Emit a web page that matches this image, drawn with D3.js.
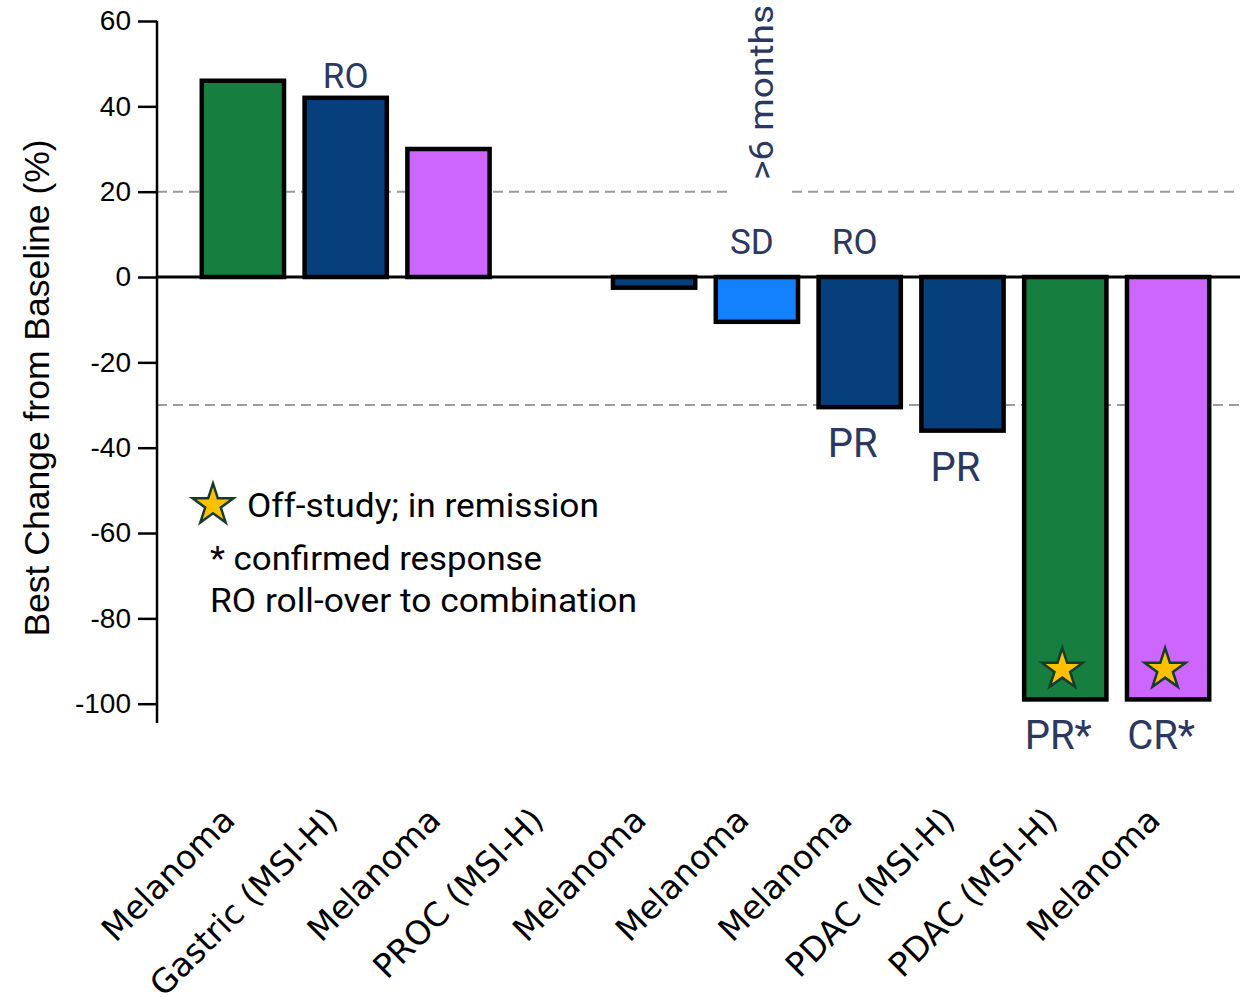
<!DOCTYPE html>
<html>
<head>
<meta charset="utf-8">
<script src="https://cdn.jsdelivr.net/npm/d3@7"></script>
<style>
  html, body { margin: 0; padding: 0; background: #fff; }
  svg { display: block; }
</style>
</head>
<body>
<svg id="chart" width="1240" height="997"></svg>
<script>
// ---- data ----
const categories = ["Melanoma", "Gastric (MSI-H)", "Melanoma", "PROC (MSI-H)", "Melanoma",
                    "Melanoma", "Melanoma", "PDAC (MSI-H)", "PDAC (MSI-H)", "Melanoma"];
const values = [46, 42, 30, 0, -2.5, -10.5, -30.5, -36, -99, -99];
const cohorts = ["A", "B", "C", "B", "B", "D", "B", "B", "A", "C"];
const cohortNames = ["A", "B", "C", "D"];
const yTicks = [60, 40, 20, 0, -20, -40, -60, -80, -100];
const thresholds = [20, -30];
const topNotes = [{ i: 1, text: "RO" }, { i: 5, text: "SD" }, { i: 6, text: "RO" }];
const bottomNotes = [{ i: 6, text: "PR" }, { i: 7, text: "PR" }, { i: 8, text: "PR*" }, { i: 9, text: "CR*" }];
const remission = [8, 9];
const remissionStarValue = -91.5;
const durationNote = { i: 5, text: ">6 months" };
const legendLines = ["Off-study; in remission", "* confirmed response", "RO roll-over to combination"];
const yTitle = "Best Change from Baseline (%)";

// ---- layout ----
const svg = d3.select("#chart");
const axisX = 157;
const rightEdge = 1240;
const y = d3.scaleLinear().domain([-100, 60]).range([703.7, 21]);
const x = d3.scaleBand().domain(d3.range(categories.length)).range([191.5, 1219.5])
  .paddingInner(0.2).paddingOuter(0.1);
const color = d3.scaleOrdinal().domain(cohortNames).range(["#167f3f", "#073e7c", "#cc66ff", "#1380fe"]);
const noteColor = "#2b3862";
const noteFont = "Roboto, 'Noto Sans', sans-serif";
const cx = i => x(i) + x.bandwidth() / 2;

// threshold dashed lines
const gapL = 727, gapR = 792;
thresholds.forEach(t => {
  const segs = t === 20 ? [[axisX, gapL], [gapR, rightEdge]] : [[axisX, rightEdge]];
  segs.forEach(([a, b]) => {
    svg.append("line").attr("x1", a).attr("x2", b).attr("y1", y(t)).attr("y2", y(t))
      .attr("stroke", "#9a9a9a").attr("stroke-width", 2).attr("stroke-dasharray", "10,6");
  });
});

// bars
svg.append("g").selectAll("rect").data(values).join("rect")
  .attr("x", (d, i) => x(i))
  .attr("width", x.bandwidth())
  .attr("y", d => y(Math.max(0, d)))
  .attr("height", d => Math.abs(y(d) - y(0)))
  .attr("fill", (d, i) => color(cohorts[i]))
  .attr("stroke", "#000")
  .attr("stroke-width", d => d === 0 ? 0 : 4.5);

// zero line
svg.append("line").attr("x1", axisX).attr("x2", rightEdge).attr("y1", y(0)).attr("y2", y(0))
  .attr("stroke", "#000").attr("stroke-width", 3);

// y axis
const yAxis = d3.axisLeft(y).tickValues(yTicks).tickFormat(d => String(d))
  .tickSize(19).tickSizeOuter(0).tickPadding(7);
const gy = svg.append("g").attr("transform", `translate(${axisX},0)`).call(yAxis);
gy.select(".domain").remove();
gy.append("line").attr("x1", 0).attr("x2", 0).attr("y1", y(60)).attr("y2", y(-104.5))
  .attr("stroke", "#000").attr("stroke-width", 2.5);
gy.selectAll(".tick line").attr("stroke", "#000").attr("stroke-width", 2.5);
gy.selectAll(".tick text").attr("fill", "#000")
  .style("font-family", "'Liberation Sans', Arial, sans-serif").style("font-size", "28px");

// y title
svg.append("text").attr("transform", `translate(49,388) rotate(-90)`)
  .attr("text-anchor", "middle").attr("fill", "#000")
  .style("font-family", "'Liberation Sans', Arial, sans-serif").style("font-size", "35.5px")
  .text(yTitle);

// category labels
svg.append("g").selectAll("text").data(categories).join("text")
  .attr("transform", (d, i) => `translate(${cx(i) - 6},822) rotate(-45)`)
  .attr("text-anchor", "end")
  .attr("fill", "#000")
  .style("font-family", "'DejaVu Sans', Verdana, sans-serif").style("font-size", "33px")
  .text(d => d);

// notes
svg.append("g").selectAll("text").data(topNotes).join("text")
  .attr("x", d => cx(d.i) - (values[d.i] > 0 ? 0 : 5))
  .attr("y", d => values[d.i] > 0 ? y(values[d.i]) - 10 : y(0) - 23)
  .attr("text-anchor", "middle").attr("fill", noteColor)
  .style("font-family", noteFont).style("font-size", "35px")
  .text(d => d.text);

svg.append("g").selectAll("text").data(bottomNotes).join("text")
  .attr("x", d => cx(d.i) - 7)
  .attr("y", d => y(values[d.i]) + 50)
  .attr("text-anchor", "middle").attr("fill", noteColor)
  .style("font-family", noteFont).style("font-size", "40px").text(d => d.text);

svg.append("text")
  .attr("transform", `translate(${cx(durationNote.i) + 16},180) rotate(-90)`)
  .attr("fill", noteColor)
  .style("font-family", noteFont).style("font-size", "33px")
  .attr("textLength", 175).attr("lengthAdjust", "spacingAndGlyphs")
  .text(durationNote.text);

// stars
const star = d3.symbol().type(d3.symbolStar).size(520);
svg.append("g").selectAll("path").data(remission).join("path")
  .attr("d", star)
  .attr("transform", i => `translate(${cx(i) - 3},${y(remissionStarValue) + 2})`)
  .attr("fill", "#ffc000").attr("stroke", "#173b2a").attr("stroke-width", 2.5);

// legend
svg.append("path").attr("d", star).attr("transform", "translate(213,505)")
  .attr("fill", "#ffc000").attr("stroke", "#173b2a").attr("stroke-width", 2.5);
const legendPos = [[247, 517, 352], [210, 570, 332], [210, 612, 427]];
legendLines.forEach((t, k) => {
  svg.append("text").attr("x", legendPos[k][0]).attr("y", legendPos[k][1])
    .attr("fill", "#000")
    .style("font-family", noteFont).style("font-size", "34px")
    .attr("textLength", legendPos[k][2]).attr("lengthAdjust", "spacingAndGlyphs")
    .text(t);
});
</script>
</body>
</html>
